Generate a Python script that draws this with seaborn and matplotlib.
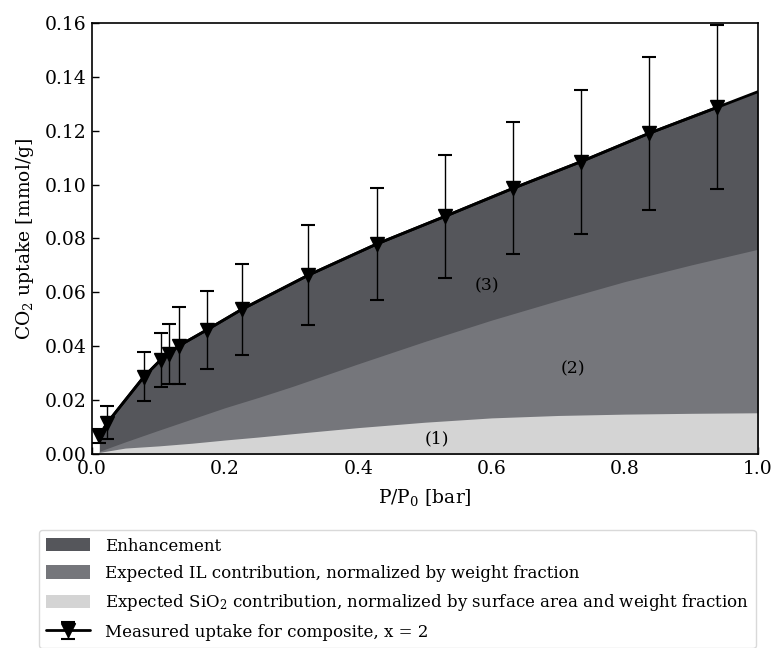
import matplotlib
matplotlib.use("Agg")
import matplotlib.pyplot as plt
import seaborn as sns

# measured composite uptake (x = 2)
pressure = [0.011, 0.023, 0.078, 0.103, 0.115, 0.130, 0.172, 0.225, 0.325,
            0.428, 0.530, 0.632, 0.734, 0.836, 0.939]
uptake = [0.0067, 0.0116, 0.0287, 0.0349, 0.0371, 0.0401, 0.0460, 0.0537, 0.0664,
          0.0780, 0.0882, 0.0986, 0.1085, 0.1190, 0.1287]
uptake_err = [0.0025, 0.0062, 0.0090, 0.0102, 0.0112, 0.0143, 0.0146, 0.0168, 0.0186,
              0.0207, 0.0227, 0.0245, 0.0268, 0.0285, 0.0305]

# line through the measurements, continued to the axis edge
line_p = pressure + [1.0]
line_uptake = uptake + [0.1345]

# expected contributions (stacked totals)
grid_p = [0.011, 0.05, 0.10, 0.15, 0.20, 0.25, 0.30, 0.40, 0.50, 0.60, 0.70, 0.80, 0.90, 1.00]
il_total = [0.0010, 0.0045, 0.0088, 0.0130, 0.0172, 0.0210, 0.0250, 0.0335, 0.0418,
            0.0497, 0.0570, 0.0640, 0.0702, 0.0760]
sio2 = [0.0006, 0.0022, 0.0030, 0.0040, 0.0052, 0.0063, 0.0075, 0.0098, 0.0118,
        0.0134, 0.0143, 0.0148, 0.0151, 0.0153]

dark = "#55565b"
mid = "#75767b"
light = "#d4d4d4"

sns.set_style("ticks")
plt.rcParams["font.family"] = ["DejaVu Serif"]
plt.rcParams["mathtext.fontset"] = "dejavuserif"
for key in ["text.color", "axes.labelcolor", "xtick.color", "ytick.color"]:
    plt.rcParams[key] = "black"

fig = plt.figure(figsize=(7.75, 6.48), dpi=100)
ax = fig.add_axes([0.1187, 0.2994, 0.8593, 0.6651])

# stacked areas, painted back to front
ax.fill_between(line_p, 0, line_uptake, color=dark, lw=0, label="Enhancement")
ax.fill_between(grid_p, 0, il_total, color=mid, lw=0,
                label="Expected IL contribution, normalized by weight fraction")
ax.fill_between(grid_p, 0, sio2, color=light, lw=0,
                label="Expected SiO$_2$ contribution, normalized by surface area and weight fraction")

sns.lineplot(x=line_p, y=line_uptake, ax=ax, color="black", lw=2.0, sort=False, legend=False)
ax.errorbar(pressure, uptake, yerr=uptake_err, fmt="v-", color="black", ms=9.5,
            lw=2.0, elinewidth=1.0, capsize=5, capthick=1.5,
            label="Measured uptake for composite, x = 2")

ax.text(0.518, 0.0055, "(1)", fontsize=12.5, ha="center", va="center")
ax.text(0.722, 0.0315, "(2)", fontsize=12.5, ha="center", va="center")
ax.text(0.593, 0.0625, "(3)", fontsize=12.5, ha="center", va="center")

ax.set_xlim(0, 1.0)
ax.set_ylim(0, 0.16)
ax.set_xticks([0.0, 0.2, 0.4, 0.6, 0.8, 1.0])
ax.set_yticks([0.00, 0.02, 0.04, 0.06, 0.08, 0.10, 0.12, 0.14, 0.16])
ax.set_xticklabels(["0.0", "0.2", "0.4", "0.6", "0.8", "1.0"])
ax.set_yticklabels(["0.00", "0.02", "0.04", "0.06", "0.08", "0.10", "0.12", "0.14", "0.16"])
ax.tick_params(direction="in", length=5, width=1, labelsize=13.5, pad=4)
ax.set_xlabel("P/P$_0$ [bar]", fontsize=13.5, labelpad=7)
ax.set_ylabel("CO$_2$ uptake [mmol/g]", fontsize=13.5, labelpad=6)
for s in ax.spines.values():
    s.set_linewidth(1.2)
    s.set_color("black")
if ax.get_legend() is not None:
    ax.get_legend().remove()

handles, labels = ax.get_legend_handles_labels()
fig.legend(handles, labels,
           loc="upper left", bbox_to_anchor=(0.05, 0.0, 0.925, 0.182),
           mode="expand", borderaxespad=0, fontsize=12, handlelength=2.6,
           handleheight=0.85, handletextpad=0.9, labelspacing=0.62,
           frameon=True, edgecolor="#d0d0d0", borderpad=0.45)

fig.savefig("out.png", dpi=100)
